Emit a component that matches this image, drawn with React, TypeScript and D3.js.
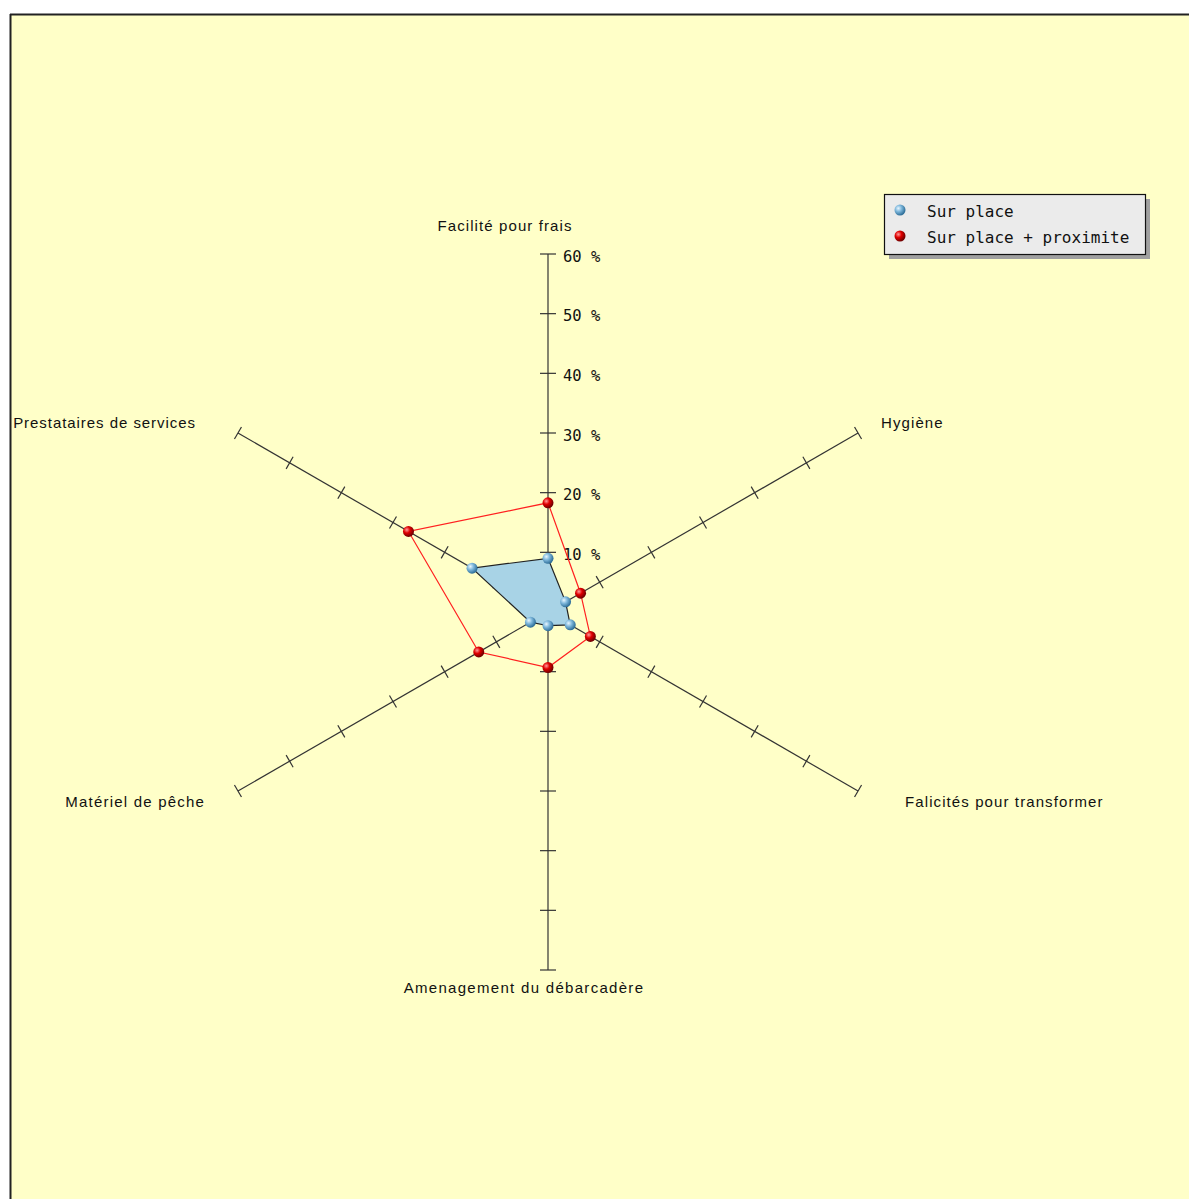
import React from "react";
import * as d3 from "d3";

const categories = [
  "Facilité pour frais",
  "Hygiène",
  "Falicités pour transformer",
  "Amenagement du débarcadère",
  "Matériel de pêche",
  "Prestataires de services",
];
const surPlace = [9, 3.4, 4.3, 2.3, 3.4, 14.7];
const surPlaceProx = [18.3, 6.3, 8.2, 9.3, 13.4, 27];
const tickValues = [10, 20, 30, 40, 50, 60];
const seriesNames = ["Sur place", "Sur place + proximite"];

const W = 1189;
const H = 1199;
const cx = 548;
const cy = 612;
const rScale = d3.scaleLinear().domain([0, 60]).range([0, 358]);
const angleScale = d3
  .scalePoint<string>()
  .domain(categories)
  .range([-90, 270 - 60]);

const labelPos: Record<string, { x: number; y: number; anchor: string; ls: number }> = {
  "Facilité pour frais": { x: 505, y: 226, anchor: "middle", ls: 1.1 },
  "Hygiène": { x: 881, y: 423, anchor: "start", ls: 1.1 },
  "Falicités pour transformer": { x: 905, y: 802, anchor: "start", ls: 1.1 },
  "Amenagement du débarcadère": { x: 524, y: 988, anchor: "middle", ls: 1.3 },
  "Matériel de pêche": { x: 205, y: 802, anchor: "end", ls: 1.2 },
  "Prestataires de services": { x: 196, y: 423, anchor: "end", ls: 0.95 },
};

function pt(cat: string, v: number): [number, number] {
  const a = ((angleScale(cat) as number) * Math.PI) / 180;
  const r = rScale(v);
  return [cx + r * Math.cos(a), cy + r * Math.sin(a)];
}

export default function App() {
  const line = d3.line().curve(d3.curveLinearClosed);
  const bluePts = categories.map((c, i) => pt(c, surPlace[i]));
  const redPts = categories.map((c, i) => pt(c, surPlaceProx[i]));
  const labelFont = "'Liberation Sans', Arial, sans-serif";
  const mono = "'DejaVu Sans Mono', 'Liberation Mono', monospace";

  return (
    <svg
      width={W}
      height={H}
      style={{ position: "absolute", left: 0, top: 0 }}
      xmlns="http://www.w3.org/2000/svg"
    >
      <defs>
        <radialGradient id="gBlue" cx="35%" cy="35%" r="65%">
          <stop offset="0%" stopColor="#e8f6ff" />
          <stop offset="45%" stopColor="#7fb8dc" />
          <stop offset="100%" stopColor="#2f6f99" />
        </radialGradient>
        <radialGradient id="gRed" cx="35%" cy="35%" r="65%">
          <stop offset="0%" stopColor="#ff9a9a" />
          <stop offset="45%" stopColor="#e00000" />
          <stop offset="100%" stopColor="#700000" />
        </radialGradient>
      </defs>
      <rect x={0} y={0} width={W} height={H} fill="#ffffff" />
      <rect x={11} y={15} width={W} height={H} fill="#ffffc8" />
      <line x1={10.5} y1={14} x2={10.5} y2={H} stroke="#222" strokeWidth={2} />
      <line x1={10} y1={14.5} x2={W} y2={14.5} stroke="#222" strokeWidth={2} />

      {/* axes */}
      {categories.map((c) => {
        const a = ((angleScale(c) as number) * Math.PI) / 180;
        const [x2, y2] = pt(c, 60);
        const px = -Math.sin(a);
        const py = Math.cos(a);
        const vertical = Math.abs(Math.cos(a)) < 0.01;
        const tl = vertical ? 8 : 7;
        return (
          <g key={c}>
            <line x1={cx} y1={cy} x2={x2} y2={y2} stroke="#333" strokeWidth={1.2} />
            {tickValues.map((t) => {
              const [tx, ty] = pt(c, t);
              return (
                <line
                  key={t}
                  x1={tx - px * tl}
                  y1={ty - py * tl}
                  x2={tx + px * tl}
                  y2={ty + py * tl}
                  stroke="#333"
                  strokeWidth={1.2}
                />
              );
            })}
          </g>
        );
      })}

      {/* tick labels on top axis */}
      {tickValues.map((t) => {
        const [, ty] = pt(categories[0], t);
        return (
          <text
            key={t}
            x={563}
            y={ty + 2}
            dy="0.36em"
            fontFamily={mono}
            fontSize={15.5}
            fill="#111"
          >
            {`${t} %`}
          </text>
        );
      })}

      {/* axis labels */}
      {categories.map((c) => {
        const p = labelPos[c];
        return (
          <text
            key={c}
            x={p.x}
            y={p.y}
            dy="0.35em"
            textAnchor={p.anchor as any}
            fontFamily={labelFont}
            fontSize={15}
            letterSpacing={p.ls}
            fill="#111"
          >
            {c}
          </text>
        );
      })}

      {/* blue series */}
      <path d={line(bluePts) || ""} fill="#a8d3e6" stroke="#222" strokeWidth={1.2} />
      {/* red series */}
      <path d={line(redPts) || ""} fill="none" stroke="#ff2020" strokeWidth={1.2} />

      {bluePts.map((p, i) => (
        <circle key={"b" + i} cx={p[0]} cy={p[1]} r={5.5} fill="url(#gBlue)" />
      ))}
      {redPts.map((p, i) => (
        <circle key={"r" + i} cx={p[0]} cy={p[1]} r={5.5} fill="url(#gRed)" />
      ))}

      {/* legend */}
      <rect x={889} y={199} width={261} height={60} fill="#a0a0a0" />
      <rect x={884.5} y={194.5} width={261} height={60} fill="#ebebeb" stroke="#111" strokeWidth={1.2} />
      {seriesNames.map((s, i) => (
        <g key={s}>
          <circle cx={900} cy={210 + i * 26} r={5.5} fill={i === 0 ? "url(#gBlue)" : "url(#gRed)"} />
          <text
            x={927}
            y={211 + i * 26}
            dy="0.35em"
            fontFamily={mono}
            fontSize={16}
            fill="#111"
          >
            {s}
          </text>
        </g>
      ))}
    </svg>
  );
}
